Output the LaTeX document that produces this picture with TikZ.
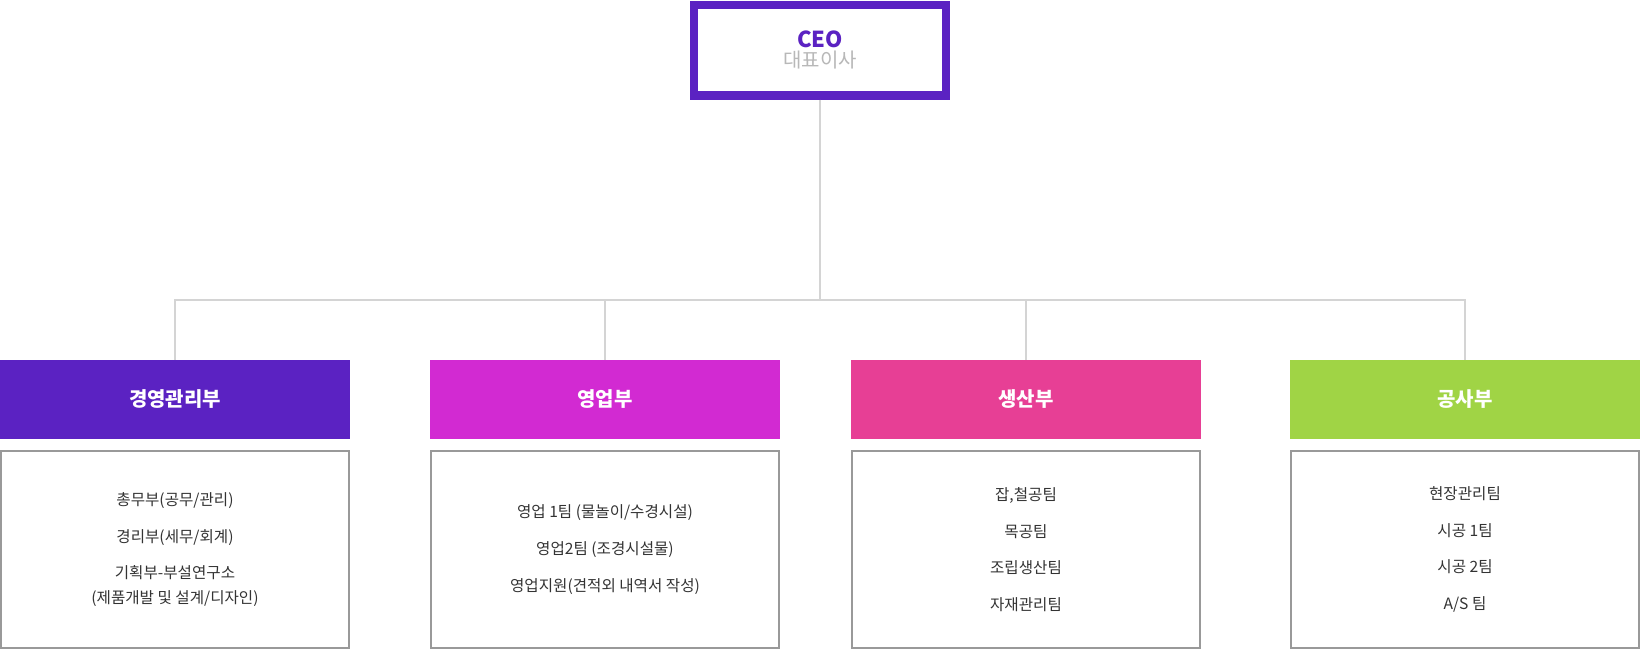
\documentclass[tikz,border=0pt]{standalone}
\usepackage{fontspec}
\setmainfont{Noto Sans CJK KR}
\usetikzlibrary{positioning, calc}
\definecolor{ceopurple}{HTML}{5B22C2}
\definecolor{salesmag}{HTML}{D22AD2}
\definecolor{prodpink}{HTML}{E73F95}
\definecolor{worksgreen}{HTML}{A0D445}
\definecolor{linkgray}{HTML}{D4D4D4}
\definecolor{boxgray}{HTML}{999999}
\definecolor{bodytext}{HTML}{333333}

\begin{document}
\begin{tikzpicture}[x=0.5pt, y=-0.5pt,
 ceobox/.style={draw=ceopurple, line width=4.2pt, inner sep=0pt, minimum width=125.8pt, minimum height=45.3pt, fill=white, align=center},
 dept/.style={minimum width=175pt, minimum height=39.5pt, inner sep=0pt, text=white, font=\fontsize{10}{12}\selectfont\bfseries},
 teambox/.style={draw=boxgray, line width=1pt, minimum width=174pt, minimum height=98.5pt, inner sep=0pt, align=center, text=bodytext, font=\fontsize{7.8}{18.3}\selectfont},
 link/.style={draw=linkgray, line width=0.6pt},
 ]
 \useasboundingbox (0,0) rectangle (1640,650);
 \node[ceobox] (ceo) at (820,50)
 {{\fontsize{11}{13}\selectfont\bfseries\color{ceopurple}CEO}\\[-2pt]
  {\fontsize{10}{12}\selectfont\color{boxgray!70}대표이사}};

 \node[dept, fill=ceopurple] (mgmt) at (175,399.5) {경영관리부};
 \node[dept, fill=salesmag] (sales) at (605,399.5) {영업부};
 \node[dept, fill=prodpink] (prod) at (1026,399.5) {생산부};
 \node[dept, fill=worksgreen] (works) at (1465,399.5) {공사부};

 \node[teambox] (mgmtteams) at (175,549.5)
 {총무부(공무/관리)\\경리부(세무/회계)\\기획부-부설연구소\\[-6pt](제품개발 및 설계/디자인)};
 \node[teambox] (salesteams) at (605,549.5)
 {영업 1팀 (물놀이/수경시설)\\영업2팀 (조경시설물)\\영업지원(견적외 내역서 작성)};
 \node[teambox] (prodteams) at (1026,549.5)
 {잡,철공팀\\목공팀\\조립생산팀\\자재관리팀};
 \node[teambox] (worksteams) at (1465,549.5)
 {현장관리팀\\시공 1팀\\시공 2팀\\A/S 팀};

 \coordinate (hub) at (820,300);
 \draw[link] (ceo.south) -- (hub);
 \draw[link] (mgmt.north) |- (hub);
 \draw[link] (works.north) |- (hub);
 \draw[link] (sales.north) -- (sales.north |- hub);
 \draw[link] (prod.north) -- (prod.north |- hub);
\end{tikzpicture}
\end{document}
